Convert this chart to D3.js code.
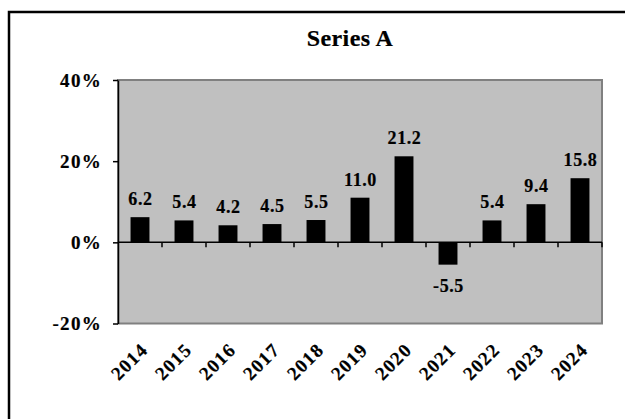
<!DOCTYPE html>
<html>
<head>
<meta charset="utf-8">
<script src="https://cdn.jsdelivr.net/npm/d3@7"></script>
<style>
  body { margin: 0; background: #fff; }
  svg { display: block; }
  text { font-family: 'Liberation Serif', 'Times New Roman', serif; font-weight: bold; fill: #000; stroke: #000; stroke-width: 0.2px; }
</style>
</head>
<body>
<svg id="chart"></svg>
<script>
const title = 'Series A';
const years = ['2014', '2015', '2016', '2017', '2018', '2019', '2020', '2021', '2022', '2023', '2024'];
const values = [6.2, 5.4, 4.2, 4.5, 5.5, 11.0, 21.2, -5.5, 5.4, 9.4, 15.8];
const yTicks = [-20, 0, 20, 40];

const W = 625;
const H = 419;
const plot = { left: 118, top: 80, right: 602, bottom: 323.5 };

const svg = d3.select('#chart').attr('width', W).attr('height', H);

// outer chart frame (only left and top edges fall inside the picture)
svg.append('rect')
  .attr('x', 9)
  .attr('y', 12)
  .attr('width', W + 20)
  .attr('height', H + 20)
  .attr('fill', '#fff')
  .attr('stroke', '#000')
  .attr('stroke-width', 2.5);

const x = d3.scaleBand()
  .domain(years)
  .range([plot.left, plot.right])
  .paddingInner(0.57)
  .paddingOuter(0.285);

const y = d3.scaleLinear()
  .domain([-20, 40])
  .range([plot.bottom, plot.top]);

// plot area
svg.append('rect')
  .attr('x', plot.left)
  .attr('y', plot.top)
  .attr('width', plot.right - plot.left)
  .attr('height', plot.bottom - plot.top)
  .attr('fill', '#c0c0c0')
  .attr('stroke', '#808080')
  .attr('stroke-width', 2);

svg.append('text')
  .attr('x', 350)
  .attr('y', 46)
  .attr('text-anchor', 'middle')
  .style('font-size', '24px')
  .style('letter-spacing', '0.4px')
  .text(title);

// bars
svg.selectAll('rect.bar')
  .data(values)
  .enter()
  .append('rect')
  .attr('class', 'bar')
  .attr('x', (d, i) => x(years[i]))
  .attr('y', (d) => y(Math.max(0, d)))
  .attr('width', x.bandwidth())
  .attr('height', (d) => Math.abs(y(d) - y(0)))
  .attr('fill', '#000');

// value labels
svg.selectAll('text.val')
  .data(values)
  .enter()
  .append('text')
  .attr('class', 'val')
  .attr('x', (d, i) => x(years[i]) + x.bandwidth() / 2 + 0.5)
  .attr('y', (d) => (d >= 0 ? y(d) - 12 : y(d) + 27))
  .attr('text-anchor', 'middle')
  .style('font-size', '18px')
  .style('letter-spacing', '0.6px')
  .text((d) => d.toFixed(1));

// y axis
const yAxis = svg.append('g')
  .attr('transform', `translate(${plot.left},0)`)
  .call(d3.axisLeft(y).tickValues(yTicks).tickSize(5).tickSizeOuter(0).tickFormat((d) => `${d}%`));
yAxis.attr('font-family', null);
yAxis.select('.domain').attr('stroke', '#000').attr('stroke-width', 1.5);
yAxis.selectAll('.tick line').attr('stroke', '#000').attr('stroke-width', 1.5);
yAxis.selectAll('.tick text')
  .attr('x', -16)
  .attr('dy', '0.34em')
  .style('font-size', '19px')
  .style('letter-spacing', '1.3px');

// x axis along zero with ticks between categories
const step = x.step();
const boundaries = d3.range(1, years.length + 1).map((i) => plot.left + i * step);
svg.append('line')
  .attr('x1', plot.left)
  .attr('x2', plot.right)
  .attr('y1', y(0))
  .attr('y2', y(0))
  .attr('stroke', '#000')
  .attr('stroke-width', 1.5);
svg.selectAll('line.xtick')
  .data(boundaries)
  .enter()
  .append('line')
  .attr('class', 'xtick')
  .attr('x1', (d) => d)
  .attr('x2', (d) => d)
  .attr('y1', y(0))
  .attr('y2', y(0) + 5)
  .attr('stroke', '#000')
  .attr('stroke-width', 1.5);

// rotated year labels
svg.selectAll('text.year')
  .data(years)
  .enter()
  .append('text')
  .attr('class', 'year')
  .attr('transform', (d) => `translate(${x(d) + x.bandwidth() / 2 + 9},351) rotate(-45)`)
  .attr('text-anchor', 'end')
  .style('font-size', '19px')
  .style('letter-spacing', '1.2px')
  .text((d) => d);
</script>
</body>
</html>
